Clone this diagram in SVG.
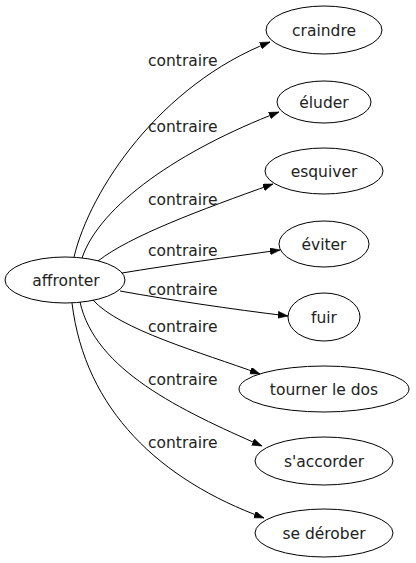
<svg xmlns="http://www.w3.org/2000/svg" width="416" height="563" viewBox="0 0 416 563">
<style>
  .node ellipse { fill: none; stroke: #000; stroke-width: 1; }
  .node text { font-family: "DejaVu Sans", sans-serif; font-size: 15.5px; text-anchor: middle; fill: #222; }
  .edges path { fill: none; stroke: #000; stroke-width: 1; marker-end: url(#arrow); }
  .edges text { font-family: "DejaVu Sans", sans-serif; font-size: 15.5px; fill: #222; }
</style>
<defs>
  <marker id="arrow" markerUnits="userSpaceOnUse" markerWidth="12" markerHeight="10" refX="10" refY="3.5" orient="auto" viewBox="0 0 12 10">
    <path d="M0,0 L10,3.5 L0,7 Z" fill="#000" stroke="#000" stroke-width="0.5"/>
  </marker>
</defs>
<rect width="416" height="563" fill="#fff"/>
<g class="edges" id="edges">
  <path d="M74,257 C90,190 160,85 270,42"/>
  <text x="148" y="66">contraire</text>
  <path d="M82,258 C100,205 180,150 279,112"/>
  <text x="148" y="132">contraire</text>
  <path d="M98,261 C130,236 200,210 273,184"/>
  <text x="148" y="205">contraire</text>
  <path d="M122,273 C170,265 230,257 280,250"/>
  <text x="148" y="256">contraire</text>
  <path d="M120,291 C170,300 230,309 288,316"/>
  <text x="148" y="295">contraire</text>
  <path d="M93,300 C120,330 200,352 260,374"/>
  <text x="148" y="332">contraire</text>
  <path d="M80,302 C95,370 180,410 262,446"/>
  <text x="148" y="385">contraire</text>
  <path d="M72,303 C85,410 160,480 264,518"/>
  <text x="148" y="448">contraire</text>
</g>
<g class="node" id="affronter"><ellipse cx="65" cy="280" rx="60" ry="23"/><text x="66" y="286">affronter</text></g>
<g class="node" id="craindre"><ellipse cx="324" cy="30" rx="58" ry="24"/><text x="324" y="35.5">craindre</text></g>
<g class="node" id="eluder"><ellipse cx="324" cy="102" rx="47" ry="21"/><text x="324" y="107.5">éluder</text></g>
<g class="node" id="esquiver"><ellipse cx="324" cy="171" rx="59" ry="23"/><text x="324" y="176.5">esquiver</text></g>
<g class="node" id="eviter"><ellipse cx="324" cy="244" rx="45" ry="23"/><text x="324" y="249.5">éviter</text></g>
<g class="node" id="fuir"><ellipse cx="324" cy="317" rx="36" ry="24"/><text x="324" y="322.5">fuir</text></g>
<g class="node" id="tourner-le-dos"><ellipse cx="324" cy="389" rx="85" ry="23"/><text x="324" y="394.5">tourner le dos</text></g>
<g class="node" id="saccorder"><ellipse cx="324" cy="461" rx="69" ry="24"/><text x="324" y="466.5">s'accorder</text></g>
<g class="node" id="se-derober"><ellipse cx="324" cy="533" rx="69" ry="24"/><text x="324" y="538.5">se dérober</text></g>
</svg>
